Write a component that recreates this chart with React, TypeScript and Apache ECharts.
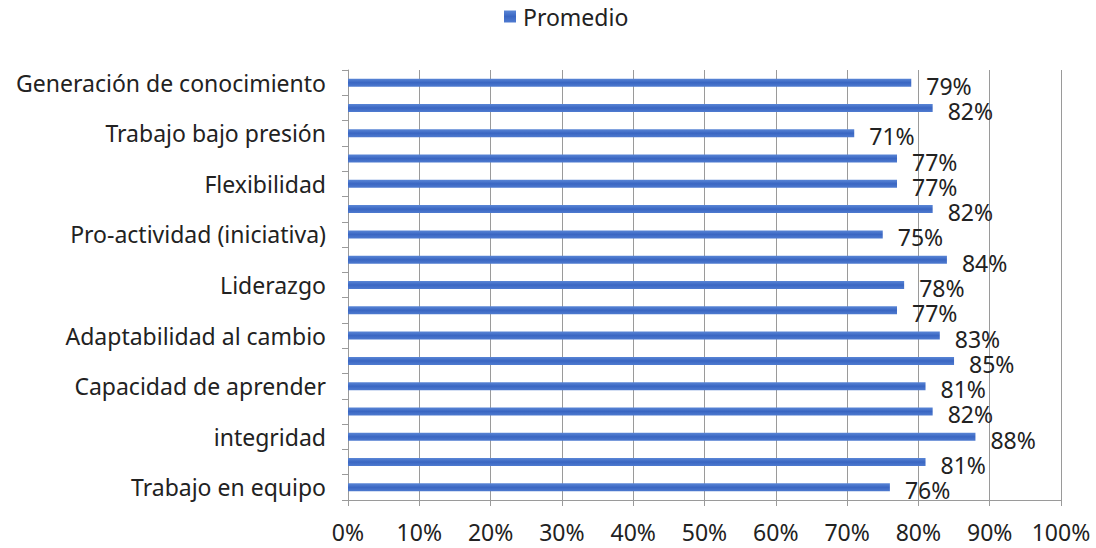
import React, { useEffect, useRef } from "react";
import * as echarts from "echarts";

// Bottom-to-top order; empty names are categories whose labels are not shown in the reference
const categories: string[] = [
  "Trabajo en equipo",
  "",
  "integridad",
  "",
  "Capacidad de aprender",
  "",
  "Adaptabilidad al cambio",
  "",
  "Liderazgo",
  "",
  "Pro-actividad (iniciativa)",
  "",
  "Flexibilidad",
  "",
  "Trabajo bajo presión",
  "",
  "Generación de conocimiento",
];

const promedio: number[] = [76, 81, 88, 82, 81, 85, 83, 77, 78, 84, 75, 82, 77, 77, 71, 82, 79];

const seriesName = "Promedio";

export default function App() {
  const ref = useRef<HTMLDivElement>(null);
  useEffect(() => {
    if (!ref.current) return;
    const chart = echarts.init(ref.current, undefined, { renderer: "svg" });
    const font = "'Noto Sans', sans-serif";
    const fs = 23;
    chart.setOption({
      animation: false,
      textStyle: { fontFamily: font },
      legend: {
        data: [seriesName],
        top: 0,
        left: 499,
        itemWidth: 12,
        itemHeight: 12,
        itemGap: 6,
        textStyle: { fontSize: fs, color: "#222", fontFamily: font, padding: [0, 0, 0, 2] },
        icon: "rect",
      },
      grid: { left: 348, right: 35, top: 70, bottom: 48, containLabel: false },
      xAxis: {
        type: "value",
        min: 0,
        max: 100,
        interval: 10,
        axisLine: { show: true, lineStyle: { color: "#9a9a9a", width: 1 } },
        axisTick: { show: true, length: 6, lineStyle: { color: "#9a9a9a" } },
        splitLine: { show: true, lineStyle: { color: "#9a9a9a", width: 1 } },
        axisLabel: { formatter: "{value}%", fontSize: fs, lineHeight: 22, color: "#222", margin: 21, fontFamily: font },
      },
      yAxis: {
        type: "category",
        data: categories,
        axisLine: { show: true, lineStyle: { color: "#9a9a9a", width: 1 } },
        axisTick: { show: true, length: 6, interval: 0, lineStyle: { color: "#9a9a9a" } },
        axisLabel: { interval: 1, fontSize: fs, color: "#222", margin: 22, fontFamily: font },
        splitLine: { show: false },
      },
      series: [
        {
          name: seriesName,
          type: "bar",
          data: promedio,
          barWidth: 8,
          itemStyle: {
            color: new echarts.graphic.LinearGradient(0, 0, 0, 1, [
              { offset: 0, color: "#5a86d6" },
              { offset: 0.5, color: "#3a66c2" },
              { offset: 1, color: "#4f7bd0" },
            ]),
          },
          label: {
            show: true,
            position: "right",
            distance: 15,
            offset: [0, 3],
            formatter: "{c}%",
            fontSize: fs,
            lineHeight: 20,
            color: "#222",
            fontFamily: font,
          },
        },
      ],
    });
    return () => chart.dispose();
  }, []);
  return (
    <div
      ref={ref}
      style={{ position: "absolute", left: 0, top: 0, width: 1096, height: 548 }}
    />
  );
}
